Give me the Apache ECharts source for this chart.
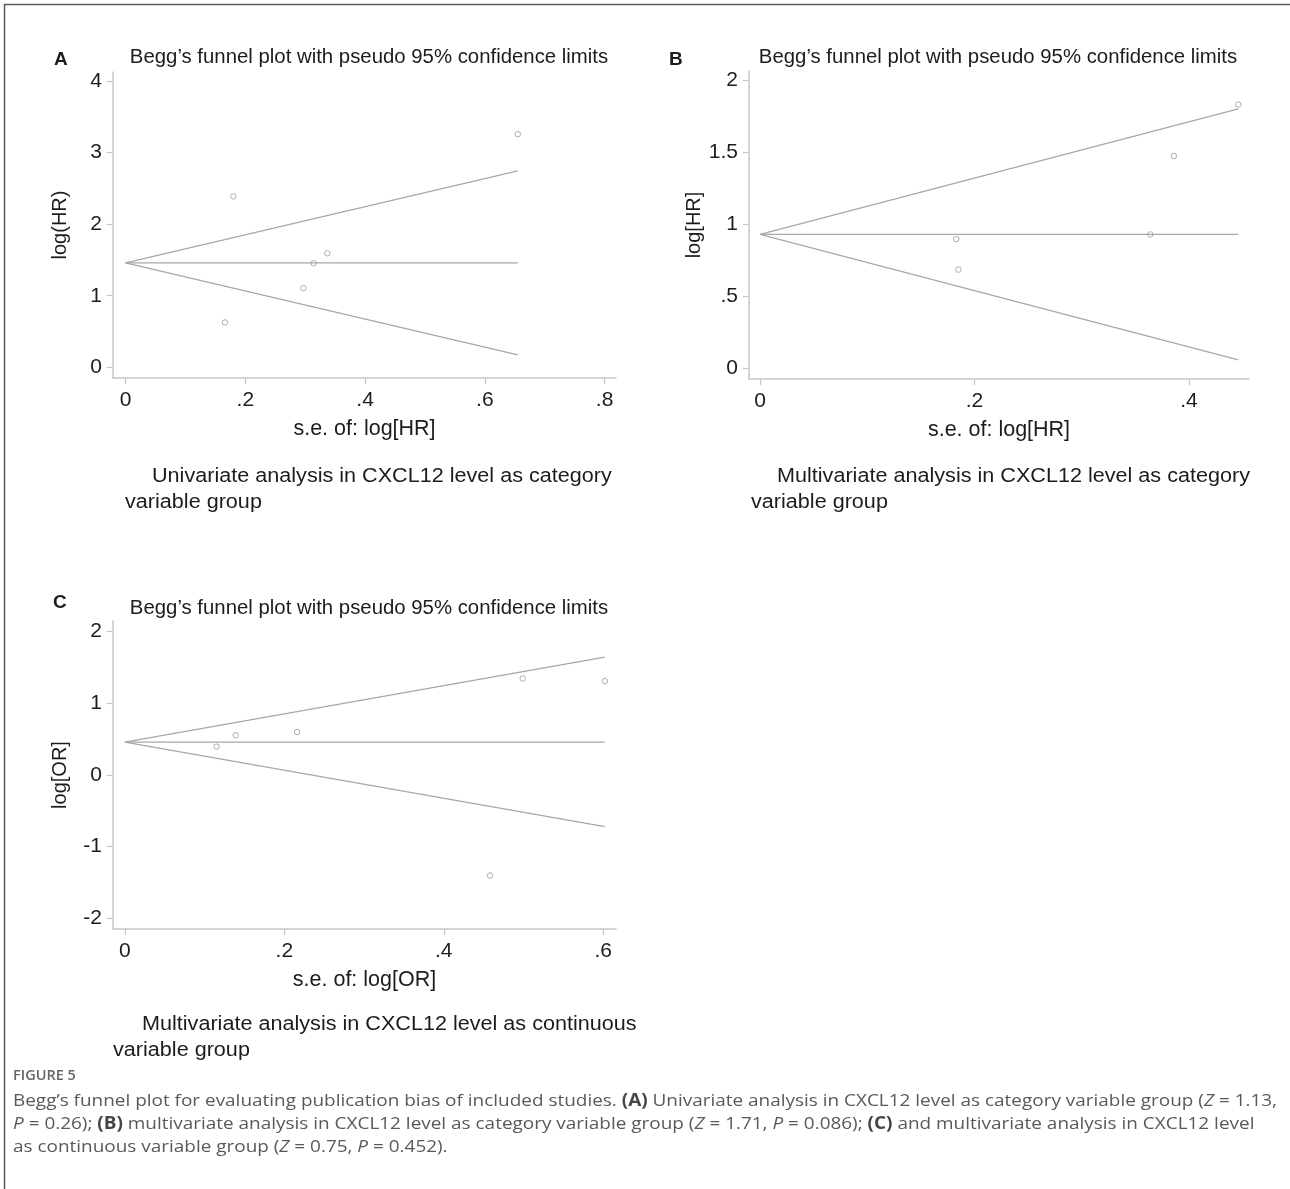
<!DOCTYPE html>
<html><head><meta charset="utf-8">
<script src="https://cdn.jsdelivr.net/npm/echarts@6/dist/echarts.min.js"></script>
<style>html,body{margin:0;padding:0;background:#fff}#c{width:1290px;height:1189px}</style>
</head><body><div id="c"></div>
<script>
// ---------- DATA ----------
// Panel A: Univariate analysis, category variable (log HR vs s.e.)
const seA      = [0.166, 0.180, 0.297, 0.314, 0.337, 0.655];
const logHR_A  = [0.627, 2.388, 1.106, 1.454, 1.593, 3.257];
const pooledA  = [[0, 1.459], [0.655, 1.459]];
const upperA   = [[0, 1.459], [0.655, 2.745]];
const lowerA   = [[0, 1.459], [0.655, 0.175]];
const xTicksA  = [0, 0.2, 0.4, 0.6, 0.8];
const yTicksA  = [0, 1, 2, 3, 4];

// Panel B: Multivariate analysis, category variable
const seB      = [0.183, 0.185, 0.364, 0.386, 0.446];
const logHR_B  = [0.897, 0.685, 0.929, 1.473, 1.830];
const pooledB  = [[0, 0.930], [0.446, 0.930]];
const upperB   = [[0, 0.930], [0.446, 1.800]];
const lowerB   = [[0, 0.930], [0.446, 0.058]];
const xTicksB  = [0, 0.2, 0.4];
const yTicksB  = [0, 0.5, 1, 1.5, 2];

// Panel C: Multivariate analysis, continuous variable (log OR vs s.e.)
const seC      = [0.115, 0.139, 0.216, 0.458, 0.499, 0.602];
const logOR_C  = [0.396, 0.555, 0.601, -1.403, 1.347, 1.310];
const pooledC  = [[0, 0.460], [0.602, 0.460]];
const upperC   = [[0, 0.460], [0.602, 1.645]];
const lowerC   = [[0, 0.460], [0.602, -0.720]];
const xTicksC  = [0, 0.2, 0.4, 0.6];
const yTicksC  = [-2, -1, 0, 1, 2];

const plotTitle = 'Begg’s funnel plot with pseudo 95% confidence limits';
const captionLines = [
  'Begg’s funnel plot for evaluating publication bias of included studies. {b|(A)} Univariate analysis in CXCL12 level as category variable group ({i|Z} = 1.13,',
  '{i|P} = 0.26); {b|(B)} multivariate analysis in CXCL12 level as category variable group ({i|Z} = 1.71, {i|P} = 0.086); {b|(C)} and multivariate analysis in CXCL12 level',
  'as continuous variable group ({i|Z} = 0.75, {i|P} = 0.452).'
];
// ------------------------------------------------------------

const FONT = '"Liberation Sans", Arial, sans-serif';
const CAP_FONT = '"Open Sans", "Noto Sans", sans-serif';
const AX = '#c6c6c6', TXT = '#1c1c1c', LN = '#a8a8a8';
const CAP_SIZE = 17;

function measure(str, font) {
  const c = document.createElement('canvas').getContext('2d');
  c.font = font;
  return c.measureText(str).width;
}
const capPlain = captionLines[0].replace(/\{[a-z]\|([^}]*)\}/g, '$1');
const capScale = 1262 / measure(capPlain, CAP_SIZE + 'px "Open Sans"');

function fmt(v) {
  if (Math.abs(v) < 1e-9) return '0';
  const s = String(+v.toFixed(3));
  return s.replace(/^(-?)0\./, '$1.');
}
function xAxis(gi, min, max, ticks, name) {
  return {
    type: 'value', gridIndex: gi, min: min, max: max,
    name: name, nameLocation: 'middle', nameGap: 40,
    nameTextStyle: { fontFamily: FONT, fontSize: 21.5, color: TXT },
    axisLine: { show: true, onZero: false, lineStyle: { color: AX, width: 1.5 } },
    axisTick: { show: true, length: 6, customValues: ticks, lineStyle: { color: AX, width: 1.2 } },
    axisLabel: { customValues: ticks, formatter: fmt, fontFamily: FONT, fontSize: 21, color: TXT, margin: 12 },
    splitLine: { show: false }
  };
}
function yAxis(gi, min, max, ticks, name) {
  return {
    type: 'value', gridIndex: gi, min: min, max: max,
    name: name, nameLocation: 'middle', nameGap: 43,
    nameTextStyle: { fontFamily: FONT, fontSize: 20, color: TXT },
    axisLine: { show: true, onZero: false, lineStyle: { color: AX, width: 1.5 } },
    axisTick: { show: true, length: 6, customValues: ticks, lineStyle: { color: AX, width: 1.2 } },
    axisLabel: { customValues: ticks, formatter: fmt, fontFamily: FONT, fontSize: 21, color: TXT, margin: 11 },
    splitLine: { show: false }
  };
}
function lineS(gi, data) {
  return { type: 'line', xAxisIndex: gi, yAxisIndex: gi, data: data, symbol: 'none',
    lineStyle: { color: LN, width: 1.3 }, silent: true, animation: false, z: 2 };
}
function scat(gi, xs, ys) {
  return { type: 'scatter', xAxisIndex: gi, yAxisIndex: gi,
    data: xs.map((x, i) => [x, ys[i]]), symbol: 'circle', symbolSize: 5.5,
    itemStyle: { color: 'rgba(255,255,255,0)', borderColor: '#9a9a9a', borderWidth: 1 },
    animation: false, z: 3 };
}
function txt(x, y, text, size, extra, sx) {
  return { type: 'text', x: x, y: y, silent: true, scaleX: sx || 1,
    style: Object.assign({ text: text, fontFamily: FONT, fontSize: size, fill: TXT,
      textAlign: 'left', textVerticalAlign: 'middle' }, extra || {}) };
}

const chart = echarts.init(document.getElementById('c'), null, { renderer: 'canvas' });

const capRich = {
  b: { fontFamily: CAP_FONT, fontSize: CAP_SIZE, fontWeight: 'bold', fill: '#464646', color: '#464646' },
  i: { fontFamily: CAP_FONT, fontSize: CAP_SIZE, fontStyle: 'italic', fill: '#595959', color: '#595959' }
};
function capLine(y, text) {
  return { type: 'text', x: 13, y: y, silent: true, scaleX: capScale,
    style: { text: text, rich: capRich, fontFamily: CAP_FONT, fontSize: CAP_SIZE, fill: '#595959',
      textAlign: 'left', textVerticalAlign: 'middle' } };
}
const TS = 1.044, NS = 1.08;

chart.setOption({
  backgroundColor: '#ffffff',
  animation: false,
  grid: [
    { left: 113, top: 72, width: 503, height: 306 },
    { left: 749, top: 71, width: 500, height: 308 },
    { left: 113, top: 621, width: 503, height: 308 }
  ],
  xAxis: [
    xAxis(0, -0.021, 0.819, xTicksA, 's.e. of: log[HR]'),
    xAxis(1, -0.0103, 0.456, xTicksB, 's.e. of: log[HR]'),
    xAxis(2, -0.0149, 0.616, xTicksC, 's.e. of: log[OR]')
  ],
  yAxis: [
    yAxis(0, -0.149, 4.125, yTicksA, 'log(HR)'),
    yAxis(1, -0.074, 2.063, yTicksB, 'log[HR]'),
    yAxis(2, -2.149, 2.149, yTicksC, 'log[OR]')
  ],
  series: [
    lineS(0, pooledA), lineS(0, upperA), lineS(0, lowerA), scat(0, seA, logHR_A),
    lineS(1, pooledB), lineS(1, upperB), lineS(1, lowerB), scat(1, seB, logHR_B),
    lineS(2, pooledC), lineS(2, upperC), lineS(2, lowerC), scat(2, seC, logOR_C)
  ],
  graphic: [
    // frame
    { type: 'line', silent: true, shape: { x1: 4, y1: 4.5, x2: 1290, y2: 4.5 }, style: { stroke: '#5a5a5a', lineWidth: 1.5 } },
    { type: 'line', silent: true, shape: { x1: 4.5, y1: 4, x2: 4.5, y2: 1189 }, style: { stroke: '#5a5a5a', lineWidth: 1.5 } },
    // panel letters
    txt(54, 60, 'A', 19, { fontWeight: 'bold' }),
    txt(669, 60, 'B', 19, { fontWeight: 'bold' }),
    txt(53, 603, 'C', 19, { fontWeight: 'bold' }),
    // plot titles
    txt(369, 58, plotTitle, 19.5, { textAlign: 'center' }, TS),
    txt(998, 58, plotTitle, 19.5, { textAlign: 'center' }, TS),
    txt(369, 609, plotTitle, 19.5, { textAlign: 'center' }, TS),
    // notes
    txt(152, 476, 'Univariate analysis in CXCL12 level as category', 20, null, NS),
    txt(125, 502, 'variable group', 20, null, NS),
    txt(777, 476, 'Multivariate analysis in CXCL12 level as category', 20, null, NS),
    txt(751, 502, 'variable group', 20, null, NS),
    txt(142, 1024, 'Multivariate analysis in CXCL12 level as continuous', 20, null, NS),
    txt(113, 1050, 'variable group', 20, null, NS),
    // figure caption
    { type: 'text', x: 13, y: 1076, silent: true,
      style: { text: 'FIGURE 5', fontFamily: CAP_FONT, fontSize: 14.5, fontWeight: 600, fill: '#666666',
        textAlign: 'left', textVerticalAlign: 'middle' } },
    capLine(1101, captionLines[0]),
    capLine(1124, captionLines[1]),
    capLine(1147, captionLines[2])
  ]
});
</script></body></html>
